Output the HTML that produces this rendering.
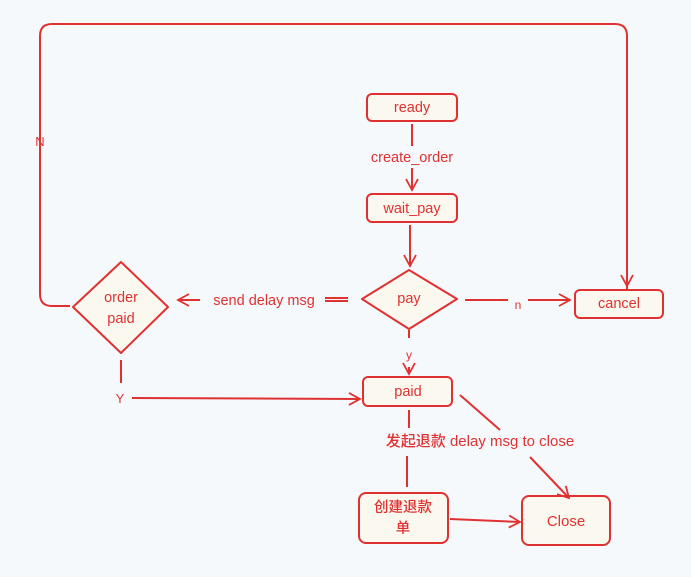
<!DOCTYPE html>
<html><head><meta charset="utf-8"><style>
html,body{margin:0;padding:0;background:#f5f9fc;}
svg{display:block}
text{font-family:"Liberation Sans","Noto Sans CJK SC",sans-serif;fill:#e03131;font-size:14.5px;text-anchor:middle;font-weight:500;}
</style></head><body>
<svg width="691" height="577" viewBox="0 0 691 577">
<defs><marker id="a" markerWidth="14" markerHeight="14" refX="12" refY="7" orient="auto" markerUnits="userSpaceOnUse"><path d="M1,1 L12,7 L1,13" fill="none" stroke="#e03131" stroke-width="1.8"/></marker></defs>
<g stroke="#e03131" stroke-width="2" fill="#fbf9ef">
<rect x="367" y="94" width="90" height="27" rx="5"/>
<rect x="367" y="194" width="90" height="28" rx="5"/>
<path d="M409,270 L457,299 L409,329 L362,299 Z" stroke-linejoin="round"/>
<rect x="575" y="290" width="88" height="28" rx="5"/>
<path d="M121,262 L168,307 L121,353 L73,307 Z" stroke-linejoin="round"/>
<rect x="363" y="377" width="89" height="29" rx="5"/>
<rect x="359" y="493" width="89" height="50" rx="7"/>
<rect x="522" y="496" width="88" height="49" rx="7"/>
</g>
<g stroke="#e03131" stroke-width="2" fill="none">
<path d="M412,124 L412,146"/><path d="M412,168 L412,190" marker-end="url(#a)"/>
<path d="M410,225 L410,266" marker-end="url(#a)"/>
<path d="M627,290 L627,36 Q627,24 615,24 L52,24 Q40,24 40,36 L40,294 Q40,306 52,306 L70,306"/>
<path d="M627,250 L627,286" marker-end="url(#a)"/>
<path d="M465,300 L508,300"/><path d="M528,300 L570,300" marker-end="url(#a)"/>
<path d="M348,298 L325,298"/><path d="M348,301 L325,301"/>
<path d="M200,300 L178,300" marker-end="url(#a)"/>
<path d="M409,330 L409,338"/><path d="M409,367 L409,374" marker-end="url(#a)"/>
<path d="M121,360 L121,383"/><path d="M132,398 L360,399" marker-end="url(#a)"/>
<path d="M409,410 L409,428"/><path d="M407,456 L407,487"/>
<path d="M460,395 L500,430"/><path d="M530,457 L569,498" marker-end="url(#a)"/>
<path d="M450,519 L520,522" marker-end="url(#a)"/>
</g>
<text x="412" y="112">ready</text>
<text x="412" y="162">create_order</text>
<text x="412" y="213">wait_pay</text>
<text x="409" y="303">pay</text>
<text x="619" y="308">cancel</text>
<text x="518" y="309" style="font-size:12px">n</text>
<text x="121" y="302">order</text>
<text x="121" y="323">paid</text>
<text x="264" y="305">send delay msg</text>
<text x="409" y="359" style="font-size:12px">y</text>
<text x="120" y="403" style="font-size:13px">Y</text>
<text x="40" y="146" style="font-size:13px">N</text>
<text x="408" y="396">paid</text>
<text x="480" y="446" style="font-size:15px">发起退款 delay msg to close</text>
<text x="403" y="512">创建退款</text>
<text x="403" y="533">单</text>
<text x="566" y="526" style="font-size:15px">Close</text>
</svg>
</body></html>
